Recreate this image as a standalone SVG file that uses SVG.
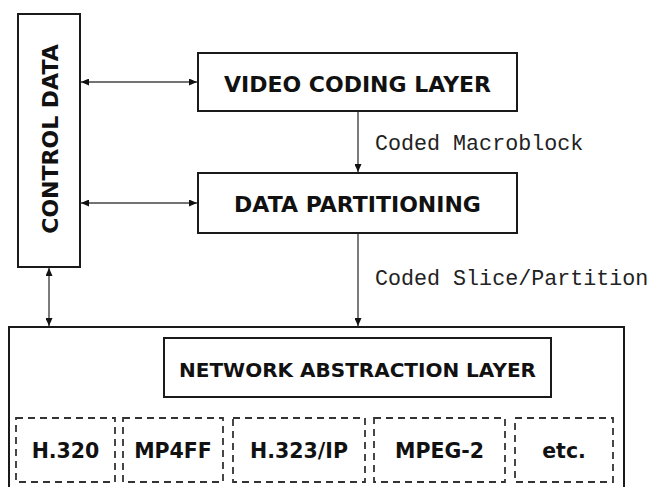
<svg xmlns="http://www.w3.org/2000/svg" width="651" height="487" viewBox="0 0 651 487">
<style>
.box{fill:#fff;stroke:#1a1a1a;stroke-width:2}
.dbox{fill:none;stroke:#333;stroke-width:1.8;stroke-dasharray:7 5}
.t{font-family:"DejaVu Sans","Verdana",sans-serif;font-weight:bold;fill:#111;text-anchor:middle}
.m{font-family:"Courier New","Liberation Mono",monospace;font-size:21.7px;fill:#222}
.c{stroke:#444;stroke-width:1.4;fill:none}
</style>
<defs>
<marker id="ah" viewBox="0 0 8 7" refX="8" refY="3.5" markerWidth="8" markerHeight="7" markerUnits="userSpaceOnUse" orient="auto-start-reverse">
<path d="M0,0 L8,3.5 L0,7 z" fill="#111"/>
</marker>
</defs>
<g id="control-data">
<rect class="box" x="18" y="14" width="62" height="253"/>
<text class="t" font-size="22" transform="translate(58,139) rotate(-90)">CONTROL DATA</text>
</g>
<g id="vcl">
<rect class="box" x="198" y="53" width="319" height="58"/>
<text class="t" font-size="22" x="357.5" y="91.5">VIDEO CODING LAYER</text>
</g>
<g id="dp">
<rect class="box" x="198" y="173" width="319" height="60"/>
<text class="t" font-size="22" x="357.5" y="211.5">DATA PARTITIONING</text>
</g>
<g id="nal-container">
<rect class="box" x="9" y="327" width="615" height="180"/>
</g>
<g id="nal">
<rect class="box" x="164" y="338" width="387" height="59"/>
<text class="t" font-size="20" x="357.5" y="376.5">NETWORK ABSTRACTION LAYER</text>
</g>
<g id="h320">
<rect class="dbox" x="16" y="418" width="99" height="64"/>
<text class="t" font-size="20.5" x="65.5" y="457.5">H.320</text>
</g>
<g id="mp4ff">
<rect class="dbox" x="123" y="418" width="100" height="64"/>
<text class="t" font-size="20.5" x="173" y="457.5">MP4FF</text>
</g>
<g id="h323">
<rect class="dbox" x="233" y="418" width="132" height="64"/>
<text class="t" font-size="20.5" x="299" y="457.5">H.323/IP</text>
</g>
<g id="mpeg2">
<rect class="dbox" x="374" y="418" width="131" height="64"/>
<text class="t" font-size="20.5" x="439.5" y="457.5">MPEG-2</text>
</g>
<g id="etc">
<rect class="dbox" x="515" y="418" width="98" height="64"/>
<text class="t" font-size="20.5" x="564" y="457.5">etc.</text>
</g>
<g id="connectors">
<line class="c" x1="81" y1="82" x2="197" y2="82" marker-start="url(#ah)" marker-end="url(#ah)"/>
<line class="c" x1="81" y1="203" x2="197" y2="203" marker-start="url(#ah)" marker-end="url(#ah)"/>
<line class="c" x1="49" y1="268" x2="49" y2="326" marker-start="url(#ah)" marker-end="url(#ah)"/>
<line class="c" x1="358" y1="112" x2="358" y2="172" marker-end="url(#ah)"/>
<line class="c" x1="358" y1="234" x2="358" y2="326" marker-end="url(#ah)"/>
<text class="m" x="375" y="150">Coded Macroblock</text>
<text class="m" x="375" y="285">Coded Slice/Partition</text>
</g>
</svg>
